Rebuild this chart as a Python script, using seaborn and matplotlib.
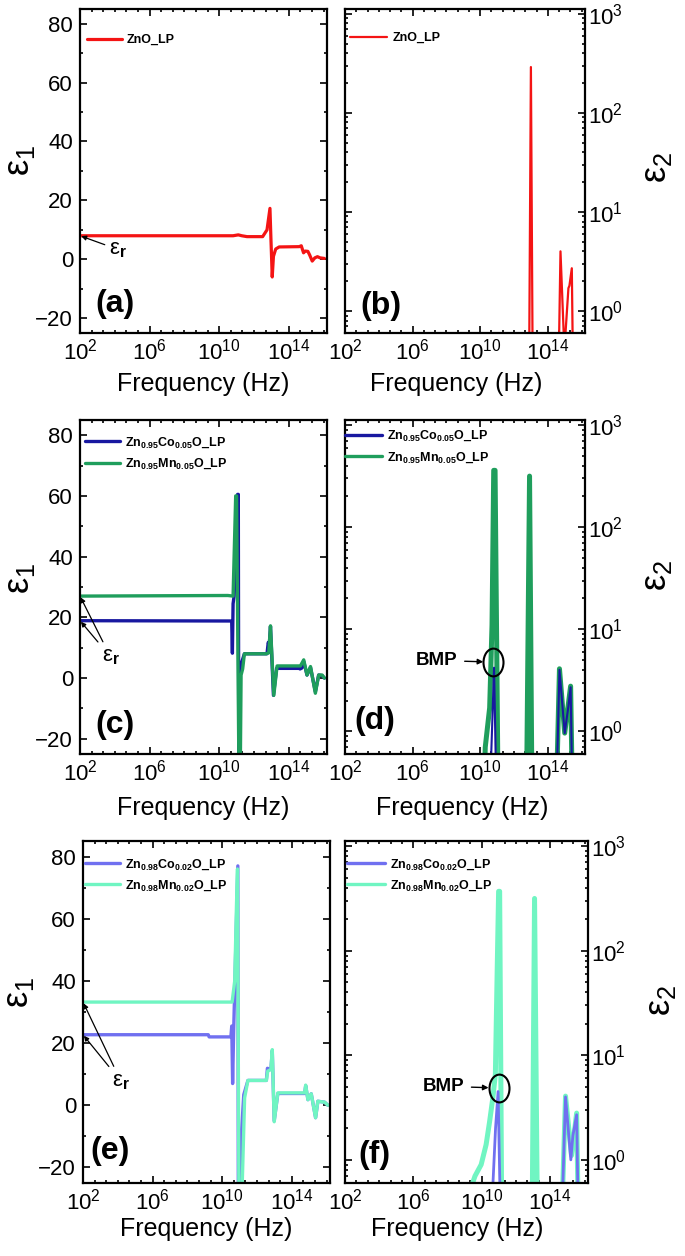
import numpy as np
import matplotlib
matplotlib.use("Agg")
import matplotlib.pyplot as plt
import seaborn as sns
from matplotlib.ticker import FixedLocator, MultipleLocator, NullFormatter
from matplotlib.path import Path
from matplotlib.transforms import Affine2D

# --- DATA (log10 of frequency in Hz) ---
# (a) ZnO_LP, eps1
a_logf = [2.0, 10.8, 11.1, 11.3, 11.6, 12.5, 12.75, 12.92, 12.97, 13.05, 13.12, 13.25, 13.45,
          14.6, 14.72, 14.85, 14.95, 15.1, 15.2, 15.35, 15.5, 15.65, 15.8, 16.05]
a_eps1 = [8.0, 8.0, 8.3, 8.0, 7.7, 7.7, 10.0, 17.3, 8.0, -6.0, 1.0, 3.5, 4.2,
          4.3, 4.6, 2.2, 2.8, 2.7, 1.5, -0.6, 0.5, 0.9, 0.5, 0.3]

# (b) ZnO_LP, eps2
b_logf = [2.0, 12.88, 13.0, 13.12, 14.6, 14.75, 14.98, 15.22, 15.28, 15.42, 15.52, 16.1]
b_eps2 = [0.1, 0.1, 290, 0.1, 0.1, 4.0, 0.4, 1.7, 1.8, 2.7, 0.1, 0.1]

# (c) 5 % doping, eps1
c_co_logf = [2.0, 10.72, 10.76, 10.8, 10.86, 11.06, 11.1, 11.13, 11.16, 11.2, 11.3, 11.45, 12.75, 12.82,
             12.88, 12.95, 13.12, 13.3, 14.6, 14.65, 14.75, 14.86, 15.05, 15.25, 15.53, 15.72, 15.92, 16.05]
c_co_eps1 = [18.9, 18.8, 8.2, 24.5, 27.0, 60.5, 60.5, -40, -40, 2.0, 5.3, 8.0, 8.0, 11.7,
             11.0, 17.0, -5.7, 3.2, 3.2, 3.0, 3.3, 5.5, 1.0, 3.5, -4.5, 1.0, 0.8, 0.0]
c_mn_logf = [2.0, 10.5, 10.8, 10.95, 11.0, 11.15, 11.2, 11.26, 11.35, 11.45, 12.7, 12.85, 12.95,
             13.14, 13.33, 14.67, 14.86, 15.05, 15.25, 15.53, 15.72, 15.92, 16.05]
c_mn_eps1 = [27.0, 27.2, 27.0, 60.0, 60.0, -40, -40, 1.0, 3.0, 8.0, 8.0, 8.3, 17.2,
             -5.7, 4.0, 4.0, 6.0, 1.0, 3.8, -5.0, 1.0, 1.0, 0.0]

# (d) 5 % doping, eps2
d_co_logf = [2.0, 10.5, 10.82, 11.0, 14.45, 14.69, 15.0, 15.22, 15.35, 15.49, 16.1]
d_co_eps2 = [0.1, 0.1, 4.2, 0.1, 0.1, 4.0, 0.96, 1.77, 2.7, 0.1, 0.1]
d_mn_logf = [2.0, 10.15, 10.3, 10.56, 10.7, 10.8, 10.88, 11.08, 12.72, 12.92, 13.08,
             14.45, 14.69, 15.0, 15.35, 15.49, 16.1]
d_mn_eps2 = [0.1, 0.1, 0.7, 1.7, 11.0, 360, 360, 0.1, 0.1, 316, 0.1,
             0.1, 4.1, 0.96, 2.77, 0.1, 0.1]

# (e) 2 % doping, eps1
e_co_logf = [2.0, 9.2, 9.25, 10.5, 10.55, 10.6, 10.66, 10.9, 10.93, 10.98, 11.05, 11.1, 11.24, 11.48,
             12.54, 12.6, 12.8, 12.88, 12.99, 13.2, 14.74, 14.8, 14.93, 15.12, 15.37, 15.5, 15.89, 16.08]
e_co_eps1 = [22.7, 22.7, 22.0, 22.0, 25.5, 7.0, 24.0, 77.0, -40, -40, -22.6, -9.6, 3.4, 8.0,
             8.0, 11.9, 11.5, 17.5, -5.0, 3.8, 3.8, 6.3, 1.8, 3.7, -4.0, 1.3, 1.0, 0.0]
e_mn_logf = [2.0, 10.57, 10.72, 10.82, 10.88, 10.97, 11.08, 11.29, 11.48, 12.54, 12.62, 12.8,
             12.88, 12.99, 13.2, 14.74, 14.8, 14.93, 15.12, 15.37, 15.5, 15.89, 16.08]
e_mn_eps1 = [33.2, 33.2, 40.0, 64.0, 76.0, -40, -40, 2.4, 8.0, 8.0, 11.0, 11.5,
             17.9, -5.3, 4.0, 4.0, 6.5, 1.8, 3.7, -4.0, 1.3, 1.0, 0.0]

# (f) 2 % doping, eps2
f_co_logf = [2.0, 10.5, 10.65, 10.8, 10.95, 11.14, 14.59, 14.89, 15.2, 15.32, 15.54, 15.68, 16.1]
f_co_eps2 = [0.1, 0.3, 0.6, 2.0, 4.5, 0.1, 0.1, 4.0, 1.0, 1.7, 2.7, 0.1, 0.1]
f_mn_logf = [2.0, 9.2, 9.6, 9.96, 10.25, 10.45, 10.65, 10.79, 10.9, 10.98, 11.04, 11.18,
             12.92, 13.08, 13.27, 14.59, 14.89, 15.24, 15.54, 15.68, 16.1]
f_mn_eps2 = [0.1, 0.45, 0.7, 0.9, 1.4, 2.3, 4.0, 6.6, 70, 370, 370, 0.1,
             0.1, 316, 0.1, 0.1, 4.07, 1.1, 2.8, 0.1, 0.1]

# labels / markers
lab_zno = "ZnO_LP"
lab_co5 = r"Zn$_{\mathbf{0.95}}$Co$_{\mathbf{0.05}}$O_LP"
lab_mn5 = r"Zn$_{\mathbf{0.95}}$Mn$_{\mathbf{0.05}}$O_LP"
lab_co2 = r"Zn$_{\mathbf{0.98}}$Co$_{\mathbf{0.02}}$O_LP"
lab_mn2 = r"Zn$_{\mathbf{0.98}}$Mn$_{\mathbf{0.02}}$O_LP"
bmp_d = (10.76, 4.8)
bmp_f = (10.98, 4.9)

# colours
c_red = "#f41414"
c_navy = "#1818a0"
c_green = "#1f9e5c"
c_lblue = "#7070f0"
c_aqua = "#70f5c2"

# --- STYLE ---
sns.set_style("ticks")
plt.rcParams['font.family'] = ['Liberation Sans', 'DejaVu Sans']
plt.rcParams['mathtext.fontset'] = 'custom'
plt.rcParams['mathtext.rm'] = 'Liberation Sans'
plt.rcParams['mathtext.it'] = 'Liberation Sans:italic'
plt.rcParams['mathtext.bf'] = 'Liberation Sans:bold'
for k in ['text.color', 'axes.labelcolor', 'xtick.color', 'ytick.color', 'axes.edgecolor']:
    plt.rcParams[k] = 'black'

fig = plt.figure(figsize=(6.85, 12.56), dpi=100)
ax_a = fig.add_axes([0.1168, 0.7349, 0.3606, 0.2580])
ax_b = fig.add_axes([0.5036, 0.7349, 0.3504, 0.2580])
ax_c = fig.add_axes([0.1168, 0.3997, 0.3606, 0.2659])
ax_d = fig.add_axes([0.5036, 0.3997, 0.3504, 0.2659])
ax_e = fig.add_axes([0.1212, 0.0581, 0.3606, 0.2723])
ax_f = fig.add_axes([0.5036, 0.0581, 0.3547, 0.2723])


def line(ax, logf, vals, color, lw, label):
    sns.lineplot(x=10 ** np.array(logf), y=vals, ax=ax, color=color, lw=lw, label=label,
                 sort=False, estimator=None, solid_joinstyle='round')


def style(ax, eps2=False, xlab_x=0.5, xlab_y=-0.12):
    ax.set_xscale('log')
    ax.set_xlim(1e2, 10 ** 16.2)
    ax.xaxis.set_major_locator(FixedLocator([1e2, 1e6, 1e10, 1e14]))
    ax.xaxis.set_minor_locator(FixedLocator(10 ** np.arange(2, 16.3, 2 / 3)))
    ax.xaxis.set_minor_formatter(NullFormatter())
    ax.tick_params(which='both', direction='in', top=True, bottom=True, left=True, right=True, width=1.2)
    ax.tick_params(which='major', length=5, labelsize=16)
    ax.tick_params(which='minor', length=2.5)
    ax.tick_params(axis='x', pad=4)
    for sp in ax.spines.values():
        sp.set_linewidth(1.6)
    ax.set_xlabel('Frequency (Hz)', fontsize=18)
    ax.xaxis.set_label_coords(xlab_x, xlab_y)
    ax.xaxis.label.set_va('top')
    if eps2:
        ax.set_yscale('log')
        ax.set_ylim(0.6, 1.12e3)
        ax.tick_params(axis='y', labelleft=False, labelright=True, pad=2)
        ax.yaxis.set_label_position('right')
        ax.set_ylabel('ε$_2$', fontsize=26, rotation=90)
    else:
        ax.set_ylim(-25, 85)
        ax.set_yticks([-20, 0, 20, 40, 60, 80])
        ax.yaxis.set_minor_locator(MultipleLocator(10))
        ax.tick_params(axis='y', pad=5)
        ax.set_ylabel('ε$_1$', fontsize=26)
    ax.grid(False)


def legend(ax, x, y, hl, lws, order=None):
    h, l = ax.get_legend_handles_labels()
    if order:
        h = [h[i] for i in order]
        l = [l[i] for i in order]
    leg = ax.legend(h, l, loc='center left', bbox_to_anchor=(x, y), frameon=False,
                    prop={'weight': 'bold', 'size': 9}, handlelength=hl, borderpad=0,
                    borderaxespad=0, handletextpad=0.4, labelspacing=0.55)
    for ln, w in zip(leg.get_lines(), lws):
        ln.set_linewidth(w)


def panel(ax, txt, x, y):
    ax.text(x, y, txt, transform=ax.transAxes, fontsize=23, fontweight='bold',
            ha='center', va='center')


def eps_r(ax, pos, targets):
    for i, t in enumerate(targets):
        ax.annotate('ε$_\\mathbf{r}$', xy=(1e2, t), xytext=(10 ** pos[0], pos[1]),
                    fontsize=16, ha='center', va='center', color='black' if i == 0 else 'none',
                    arrowprops=dict(arrowstyle='-|>', color='black', lw=0.9,
                                    mutation_scale=7, shrinkA=1, shrinkB=1))


ellipse = Path.unit_circle().transformed(Affine2D().scale(0.72, 1.0))


def bmp(ax, pt, text_x, tip_x):
    ax.plot([10 ** pt[0]], [pt[1]], marker=ellipse, ms=20, mfc='none', mec='black', mew=1.5, ls='none')
    ax.annotate('BMP', xy=(10 ** tip_x, pt[1]), xytext=(10 ** text_x, pt[1] * 1.03),
                fontsize=13.5, fontweight='bold', ha='center', va='center',
                arrowprops=dict(arrowstyle='-|>', color='black', lw=1.0,
                                mutation_scale=8, shrinkA=3, shrinkB=0))


# (a)
line(ax_a, a_logf, a_eps1, c_red, 2.3, lab_zno)
style(ax_a, xlab_y=-0.12)
legend(ax_a, 0.028, 0.904, 2.8, [2.3])
panel(ax_a, '(a)', 0.14, 0.09)
eps_r(ax_a, (4.2, 3.3), [8.0])
ax_a.yaxis.set_label_coords(-0.174, 0.534)

# (b)
line(ax_b, b_logf, b_eps2, c_red, 1.6, lab_zno)
style(ax_b, eps2=True, xlab_x=0.465, xlab_y=-0.12)
legend(ax_b, 0.02, 0.91, 3.0, [1.6])
panel(ax_b, '(b)', 0.15, 0.083)
ax_b.yaxis.set_label_coords(1.225, 0.512)

# (c)
line(ax_c, c_co_logf, c_co_eps1, c_navy, 2.4, lab_co5)
line(ax_c, c_mn_logf, c_mn_eps1, c_green, 2.4, lab_mn5)
style(ax_c, xlab_y=-0.126)
legend(ax_c, 0.02, 0.9, 2.8, [2.4, 2.4])
panel(ax_c, '(c)', 0.14, 0.087)
eps_r(ax_c, (3.75, 7.0), [27.0, 18.9])
ax_c.yaxis.set_label_coords(-0.174, 0.527)

# (d)
line(ax_d, d_mn_logf, d_mn_eps2, c_green, 3.6, lab_mn5)
line(ax_d, d_co_logf, d_co_eps2, c_navy, 1.5, lab_co5)
style(ax_d, eps2=True, xlab_x=0.49, xlab_y=-0.126)
legend(ax_d, 0.0, 0.92, 3.0, [2.4, 2.4], order=[1, 0])
panel(ax_d, '(d)', 0.125, 0.10)
bmp(ax_d, bmp_d, 7.41, 10.18)
ax_d.yaxis.set_label_coords(1.225, 0.536)

# (e)
line(ax_e, e_co_logf, e_co_eps1, c_lblue, 2.4, lab_co2)
line(ax_e, e_mn_logf, e_mn_eps1, c_aqua, 2.4, lab_mn2)
style(ax_e, xlab_y=-0.1)
legend(ax_e, 0.01, 0.9, 2.8, [2.4, 2.4])
panel(ax_e, '(e)', 0.11, 0.094)
eps_r(ax_e, (4.18, 7.7), [33.2, 22.7])
ax_e.yaxis.set_label_coords(-0.19, 0.558)

# (f)
line(ax_f, f_mn_logf, f_mn_eps2, c_aqua, 3.6, lab_mn2)
line(ax_f, f_co_logf, f_co_eps2, c_lblue, 2.0, lab_co2)
style(ax_f, eps2=True, xlab_x=0.46, xlab_y=-0.1)
legend(ax_f, 0.01, 0.9, 3.0, [2.4, 2.4], order=[1, 0])
panel(ax_f, '(f)', 0.12, 0.082)
bmp(ax_f, bmp_f, 7.74, 10.39)
ax_f.yaxis.set_label_coords(1.225, 0.533)

fig.savefig('out.png', dpi=100)
